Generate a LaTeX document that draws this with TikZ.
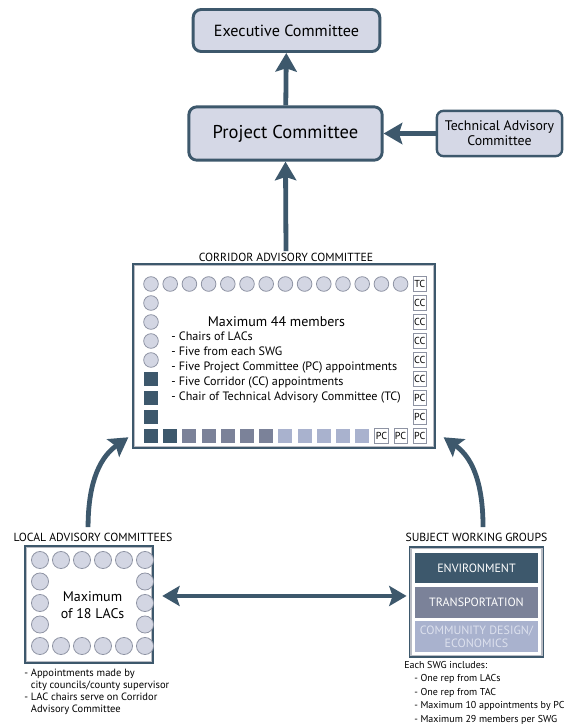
\documentclass[tikz,border=0pt]{standalone}
\usepackage{fontspec}
\setmainfont{PT Sans}
\usetikzlibrary{arrows.meta}

\definecolor{slate}{HTML}{3D586C}
\definecolor{boxfill}{HTML}{D5D8E6}
\definecolor{midblue}{HTML}{7B8299}
\definecolor{lightblue}{HTML}{A9B2CE}
\definecolor{seatfill}{HTML}{D3D6E3}
\definecolor{seatline}{HTML}{8E93A3}
\definecolor{framegray}{HTML}{B9BCC4}
\definecolor{paletext}{HTML}{DDE1EE}

\tikzset{
  cbox/.style={draw=slate, line width=2.2pt, fill=boxfill, rounded corners=6pt, inner sep=0pt},
  bigarrow/.style={draw=slate, line width=3.6pt, -{Stealth[length=14pt,width=16pt,inset=2.5pt]}},
  framebox/.style={draw=slate, line width=0.9pt, inner sep=0pt},
  seat/.style={circle, draw=seatline, fill=seatfill, line width=0.6pt, minimum size=11pt, inner sep=0pt},
  lacseat/.style={seat, minimum size=12.8pt},
  swgseat/.style={rectangle, fill=#1, minimum size=10.5pt, inner sep=0pt},
  tagbox/.style={rectangle, draw=seatline, fill=white, line width=0.6pt, minimum width=10pt, minimum height=11.5pt, inner sep=0.3pt, font=\fontsize{7.6}{8}\selectfont},
  grouplabel/.style={font=\fontsize{8.8}{9}\selectfont, inner sep=1pt},
  band/.style={rectangle, fill=#1, minimum width=92pt, minimum height=22.5pt, inner sep=0pt, align=center, font=\fontsize{9}{10}\selectfont}
}

\begin{document}
\begin{tikzpicture}[x=0.75pt, y=-0.75pt]
  \useasboundingbox (0,0) rectangle (575,725);

  % top of the chart
  \node[cbox, minimum width=140pt, minimum height=31.5pt, font=\fontsize{12.1}{13}\selectfont] (ec) at (286.5,30.5) {Executive Committee};
  \node[cbox, minimum width=145pt, minimum height=40pt, font=\fontsize{13.9}{15}\selectfont] (pc) at (285.5,133.5) {Project Committee};
  \node[cbox, line width=1.8pt, rounded corners=5pt, minimum width=94pt, minimum height=34pt, align=center, font=\fontsize{10.4}{11.4}\selectfont] (tac) at (499.5,133.5) {Technical Advisory\\Committee};

  \draw[bigarrow] (pc) -- (ec);
  \draw[bigarrow] (tac) -- (pc);

  % corridor advisory committee
  \node[grouplabel] (caclabel) at (286,257) {CORRIDOR ADVISORY COMMITTEE};
  \node[framebox, minimum width=226.5pt, minimum height=138pt] (cac) at (284,356) {};
  \draw[framegray, line width=1.4pt] ([shift={(1.6pt,-1.6pt)}]cac.north west) rectangle ([shift={(-1.6pt,1.6pt)}]cac.south east);
  \draw[bigarrow] (caclabel.north) -- (pc.south);

  \foreach \i in {1,...,14}
    \node[seat] (ct\i) at ({151+(\i-1)*19.2},284) {};
  \foreach \j in {2,...,5}
    \node[seat] (cl\j) at (151,{284+(\j-1)*19}) {};
  \foreach \j in {6,7,8}
    \node[swgseat=slate] (cl\j) at (151,{284+(\j-1)*19}) {};
  \foreach \i/\c in {1/slate,2/slate,3/midblue,4/midblue,5/midblue,6/midblue,7/midblue,
                     8/lightblue,9/lightblue,10/lightblue,11/lightblue,12/lightblue}
    \node[swgseat=\c] (cb\i) at ({151+(\i-1)*19.2},436) {};
  \node[tagbox] (cb13) at ({151+12*19.2},436) {PC};
  \node[tagbox] (cb14) at ({151+13*19.2},436) {PC};
  \foreach \j/\t in {1/TC,2/CC,3/CC,4/CC,5/CC,6/CC,7/PC,8/PC,9/PC}
    \node[tagbox] (cr\j) at (419.8,{284+(\j-1)*19}) {\t};

  \node[font=\fontsize{10.5}{12}\selectfont, inner sep=0pt] (cachead) at (276.5,322) {Maximum 44 members};
  \node[anchor=west, align=left, inner sep=0pt, font=\fontsize{9.1}{11.1}\selectfont] (caclist) at (171,367.5)
    {- Chairs of LACs\\
     - Five from each SWG\\
     - Five Project Committee (PC) appointments\\
     - Five Corridor (CC) appointments\\
     - Chair of Technical Advisory Committee (TC)};

  % local advisory committees
  \node[grouplabel] (laclabel) at (93,537) {LOCAL ADVISORY COMMITTEES};
  \node[framebox, minimum width=96pt, minimum height=87.75pt] (lac) at (89,604.5) {};
  \draw[framegray, line width=1.4pt] ([shift={(1.6pt,-1.6pt)}]lac.north west) rectangle ([shift={(-1.6pt,1.6pt)}]lac.south east);
  \foreach \i in {1,...,6} {
    \node[lacseat] (lt\i) at ({40+(\i-1)*21},560) {};
    \node[lacseat] (lb\i) at ({40+(\i-1)*21},646) {};
  }
  \foreach \j in {2,3,4} {
    \node[lacseat] (ll\j) at (40,{560+(\j-1)*21.5}) {};
    \node[lacseat] (lr\j) at (145,{560+(\j-1)*21.5}) {};
  }
  \node[align=center, inner sep=0pt, font=\fontsize{10.5}{12.8}\selectfont] (lactext) at (92.5,605.5) {Maximum\\of 18 LACs};
  \node[anchor=north west, align=left, inner sep=0pt, font=\fontsize{7.9}{9}\selectfont] (lacnotes) at (24,669)
    {- Appointments made by\\
     \phantom{- }city councils/county supervisor\\
     - LAC chairs serve on Corridor\\
     \phantom{- }Advisory Committee};

  % subject working groups
  \node[grouplabel] (swglabel) at (476.5,537) {SUBJECT WORKING GROUPS};
  \node[framebox, minimum width=100pt, minimum height=82.5pt] (swg) at (476.5,602) {};
  \draw[framegray, line width=1.4pt] ([shift={(1.6pt,-1.6pt)}]swg.north west) rectangle ([shift={(-1.6pt,1.6pt)}]swg.south east);
  \node[band=slate, text=white] (env) at (476.5,568) {ENVIRONMENT};
  \node[band=midblue, text=white, minimum height=23.2pt] (trans) at (476.5,602.5) {TRANSPORTATION};
  \node[band=lightblue, text=paletext, minimum height=23.2pt] (comm) at (476.5,636.5) {COMMUNITY DESIGN/\\ECONOMICS};
  \node[anchor=north west, align=left, inner sep=0pt, font=\fontsize{7.5}{10.1}\selectfont] (swgnotes) at (404,661)
    {Each SWG includes:\\
     \hspace{7.5pt}- One rep from LACs\\
     \hspace{7.5pt}- One rep from TAC\\
     \hspace{7.5pt}- Maximum 10 appointments by PC\\
     \hspace{7.5pt}- Maximum 29 members per SWG};

  % links between the groups
  \draw[bigarrow, {Stealth[length=13pt,width=15pt,inset=2.5pt]}-{Stealth[length=13pt,width=15pt,inset=2.5pt]}, shorten <=6.5pt, shorten >=2pt]
    ([yshift=6.4pt]lac.east) -- ([yshift=6.4pt]lac.east -| swg.west);
  \draw[bigarrow] ([xshift=-3.7pt,yshift=3pt]laclabel.north) to[out=90, in=215] ([xshift=-3pt,yshift=8.5pt]cac.south west);
  \draw[bigarrow] ([xshift=4.9pt,yshift=3pt]swglabel.north) to[out=90, in=-35] ([xshift=6pt,yshift=8.5pt]cac.south east);
\end{tikzpicture}
\end{document}
